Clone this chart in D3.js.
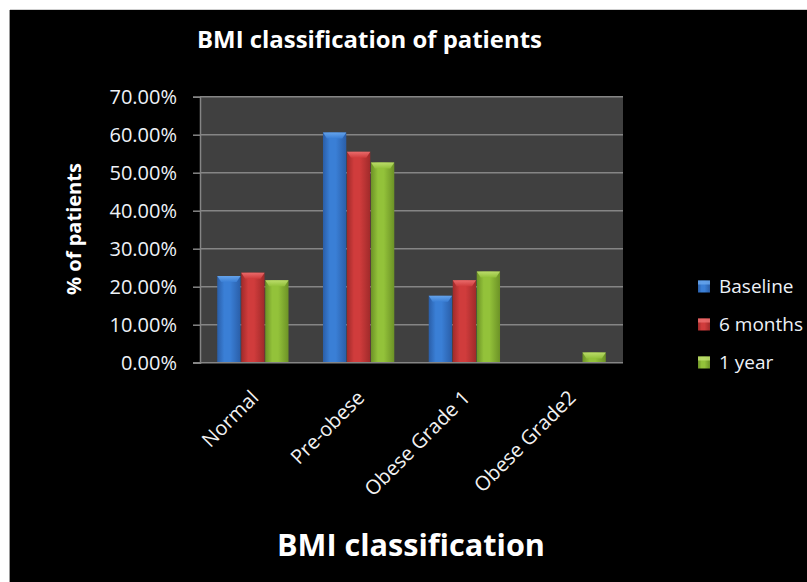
<!DOCTYPE html>
<html><head><meta charset="utf-8">
<script src="https://cdn.jsdelivr.net/npm/d3@7"></script>
<style>
html,body{margin:0;padding:0;background:#fff;}
svg{display:block;}
text{font-family:"Open Sans","Noto Sans",sans-serif;}
</style></head>
<body><svg id="c" width="807" height="582"></svg>
<script>
const categories = ["Normal","Pre-obese","Obese Grade 1","Obese Grade2"];
const seriesNames = ["Baseline","6 months","1 year"];
const baseline = [22.8, 60.6, 17.6, 0];
const sixMonths = [23.7, 55.5, 21.7, 0];
const oneYear = [21.7, 52.7, 24.0, 2.7];
const yTicks = [0,10,20,30,40,50,60,70];
const colors = ["#3a7fd6","#d03c3c","#93c23a"];
const lights = ["#6aa8ee","#ee7070","#c0e070"];
const darks = ["#2a5ea8","#a02a2a","#6c9226"];

const svg = d3.select("#c");
svg.append("rect").attr("x",10).attr("y",10).attr("width",797).attr("height",572).attr("fill","#000");
svg.append("line").attr("x1",9.5).attr("x2",9.5).attr("y1",10).attr("y2",582).attr("stroke","#9a9a9a");
svg.append("line").attr("x1",10).attr("x2",807).attr("y1",9.5).attr("y2",9.5).attr("stroke","#cfcfcf");

const L=200, R=623, T=96.7, B=362.7;
const x = d3.scaleBand().domain(categories).range([L,R]).padding(0);
const y = d3.scaleLinear().domain([0,70]).range([B,T]);

const defs = svg.append("defs");
colors.forEach((c,i)=>{
  const g = defs.append("linearGradient").attr("id","g"+i).attr("x1","0").attr("x2","1").attr("y1","0").attr("y2","0");
  g.append("stop").attr("offset","0").attr("stop-color",darks[i]);
  g.append("stop").attr("offset","0.3").attr("stop-color",c);
  g.append("stop").attr("offset","0.55").attr("stop-color",c);
  g.append("stop").attr("offset","1").attr("stop-color",darks[i]);
  const h = defs.append("linearGradient").attr("id","h"+i).attr("x1","0").attr("x2","0").attr("y1","0").attr("y2","1");
  h.append("stop").attr("offset","0").attr("stop-color",lights[i]);
  h.append("stop").attr("offset","1").attr("stop-color",c);
});

// plot background
svg.append("rect").attr("x",L).attr("y",T).attr("width",R-L).attr("height",B-T).attr("fill","#404040");
// gridlines
svg.append("g").selectAll("line").data(yTicks.filter(d=>d>0)).join("line")
  .attr("x1",L).attr("x2",R).attr("y1",d=>y(d)).attr("y2",d=>y(d))
  .attr("stroke","#858585").attr("stroke-width",1.5);

// y axis
const yAxis = d3.axisLeft(y).tickValues(yTicks).tickFormat(d=>d.toFixed(2)+"%").tickSize(7).tickPadding(16);
const ya = svg.append("g").attr("transform",`translate(${L},0)`).call(yAxis);
ya.selectAll("path").attr("stroke","#858585").attr("stroke-width",1.5);
ya.selectAll("line").attr("stroke","#858585").attr("stroke-width",1.5);
ya.selectAll("text").attr("fill","#eef2f8").style("font-size","20px").style("font-family","'Open Sans',sans-serif").attr("dy","0.36em");

// bars
const data = [baseline, sixMonths, oneYear];
const bw = 23.3, gap = 0.7, groupW = 3*bw+2*gap;
const gBars = svg.append("g");
data.forEach((vals,si)=>{
  vals.forEach((v,ci)=>{
    if(v<=0) return;
    const bx = x(categories[ci]) + (x.bandwidth()-groupW)/2 + si*(bw+gap);
    const by = y(v);
    gBars.append("rect").attr("x",bx).attr("y",by).attr("width",bw).attr("height",B-by).attr("fill",`url(#g${si})`);
    const capH = Math.min(6, (B-by));
    gBars.append("path").attr("d",`M${bx},${by} L${bx+bw},${by} L${bx+bw-4},${by+capH} L${bx+4},${by+capH} Z`).attr("fill",`url(#h${si})`).attr("opacity",0.9);
  });
});

// bottom axis line
svg.append("line").attr("x1",L-7).attr("x2",R).attr("y1",B).attr("y2",B).attr("stroke","#858585").attr("stroke-width",1.5);

// x labels
svg.append("g").selectAll("text").data(categories).join("text")
  .attr("transform",d=>`translate(${x(d)+x.bandwidth()/2+2},394) rotate(-45)`)
  .attr("text-anchor","end").attr("dy","0.35em")
  .attr("fill","#f2f2f2").style("font-size","20px").text(d=>d);

function fit(sel, w){
  const n = sel.node(); let fs = parseFloat(sel.style("font-size"));
  const cur = n.getComputedTextLength();
  sel.style("font-size",(fs*w/cur).toFixed(2)+"px");
}
// title
const title = svg.append("text").attr("x",369.5).attr("y",48).attr("text-anchor","middle")
  .attr("fill","#fff").style("font-weight","bold").style("font-size","21px").text("BMI classification of patients");
fit(title,345);
// y title
const yt = svg.append("text").attr("transform","translate(81,229) rotate(-90)").attr("text-anchor","middle")
  .attr("fill","#fff").style("font-weight","bold").style("font-size","17px").text("% of patients");
fit(yt,132);
// x title
const xt = svg.append("text").attr("x",411).attr("y",556).attr("text-anchor","middle")
  .attr("fill","#fff").style("font-weight","bold").style("font-size","28px").text("BMI classification");
fit(xt,268);

// legend
const lg = svg.append("g");
seriesNames.forEach((s,i)=>{
  const cy = 286.5 + i*38;
  lg.append("rect").attr("x",698).attr("y",cy-6).attr("width",12).attr("height",12).attr("fill",`url(#g${i})`);
  lg.append("rect").attr("x",698).attr("y",cy-6).attr("width",12).attr("height",4).attr("fill",lights[i]).attr("opacity",0.8);
  lg.append("text").attr("x",719).attr("y",cy).attr("dy","0.36em").attr("fill","#eef2f8").style("font-size","19px").text(s);
});
</script></body></html>
